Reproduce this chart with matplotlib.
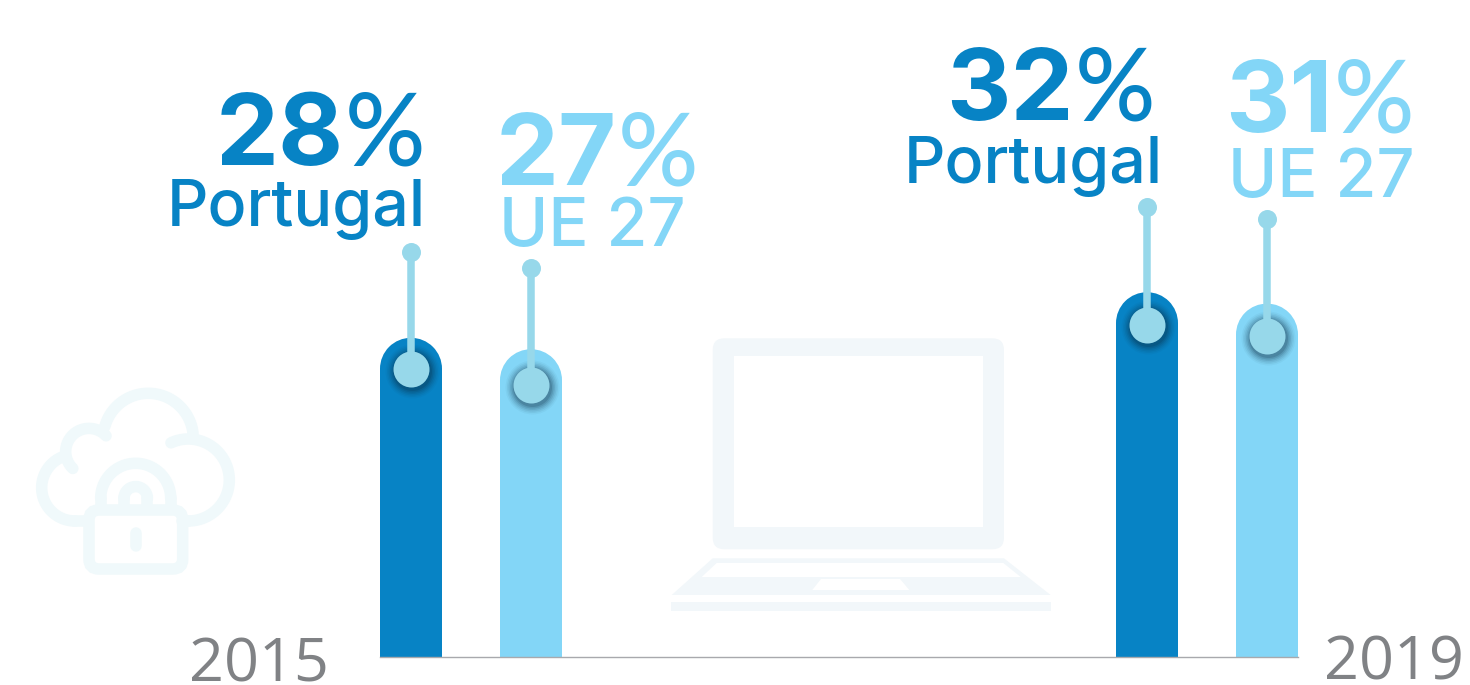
import numpy as np
import matplotlib
matplotlib.use("Agg")
import matplotlib.pyplot as plt
from matplotlib.patches import FancyBboxPatch, Polygon, Rectangle
from matplotlib.path import Path
from matplotlib.transforms import Affine2D

# Data
labels = ["Portugal", "UE 27", "Portugal", "UE 27"]
values = [28, 27, 32, 31]
years = ["2015", "2019"]

# Layout, in pixels of the 1470x685 picture
W, H = 1470, 685
BASE_Y = 657
PX_PER_PCT = 11.4
BAR_W = 62
bar_x = [411, 531, 1147, 1267]
pin_y = [252, 268, 207, 219]
knob_y = [369, 385, 325, 336]

DARK = "#0783c5"
LIGHT = "#83d6f7"
KNOB = "#97d8ea"
GREY = "#808285"
CLOUD = "#f0f9fb"
LAPTOP = "#f2f7fa"
bar_colors = [DARK, LIGHT, DARK, LIGHT]
name_sizes = [46.5, 48, 46.5, 48]

plt.rcParams["font.family"] = ["Inter", "DejaVu Sans"]

fig = plt.figure(figsize=(W / 100, H / 100), dpi=100, facecolor="white")

# -------- Bars, on a percent scale --------
ax = fig.add_axes([0, 0, 1, 1])
ax.set_xlim(0, W)
ax.set_ylim(-(H - BASE_Y) / PX_PER_PCT, BASE_Y / PX_PER_PCT)
ax.axis("off")

r_y = BAR_W / 2 / PX_PER_PCT
bars = ax.bar(bar_x, values, width=BAR_W, color=bar_colors, linewidth=0)
for bar, x, v in zip(bars, bar_x, values):
    # round the top of the bar
    rect = Path.unit_rectangle().transformed(Affine2D().scale(BAR_W, v - r_y).translate(x - BAR_W / 2, 0))
    cap = Path.unit_circle().transformed(Affine2D().scale(BAR_W / 2, r_y).translate(x, v - r_y))
    bar.set_clip_path(Path.make_compound_path(rect, cap), ax.transData)
ax.plot([380, 1298], [0, 0], color="#a8a9ad", lw=1)

# -------- Everything else, in pixels --------
top = fig.add_axes([0, 0, 1, 1], facecolor="none")
top.set_xlim(0, W)
top.set_ylim(H, 0)
top.axis("off")


def arc(cx, cy, r, a0, a1):
    t = np.radians(np.linspace(a0, a1, 80))
    top.plot(cx + r * np.cos(t), cy - r * np.sin(t), color=CLOUD, lw=8.3, solid_capstyle="round")


def seg(xs, ys):
    top.plot(xs, ys, color=CLOUD, lw=8.3, solid_capstyle="round")


# cloud
arc(148.3, 438.3, 45, 165, 6)
arc(89, 451.7, 23.3, 43, 226)
arc(75, 487.7, 33.3, 110, 270)
seg([75, 84], [521, 521])
arc(188.3, 480, 41, 115, -90)
seg([188.3, 182], [521, 521])
# padlock
top.add_patch(FancyBboxPatch((89, 510), 93.7, 59, boxstyle="round,pad=0,rounding_size=10",
                             fc="white", ec=CLOUD, lw=8.3))
arc(135.7, 498.3, 35, 180, 0)
seg([100.7, 100.7], [498.3, 508])
seg([170.7, 170.7], [498.3, 508])
arc(135.7, 498.3, 11.7, 180, 0)
seg([124, 124], [498.3, 508])
seg([147.4, 147.4], [498.3, 508])
seg([135.7, 135.7], [533.3, 545.7])

# laptop
top.add_patch(FancyBboxPatch((712.7, 338.3), 291.3, 211, boxstyle="round,pad=0,rounding_size=11.7",
                             fc=LAPTOP, ec="none"))
top.add_patch(Rectangle((734, 356), 248.7, 171.3, fc="white", ec="none"))
top.add_patch(Polygon([(671.7, 595), (712.7, 558.3), (1004, 558.3), (1050.7, 595)], fc=LAPTOP, ec="none"))
top.add_patch(Polygon([(701.7, 577), (716.7, 563), (1003.3, 563), (1020.7, 577)], fc="white", ec="none"))
top.add_patch(Polygon([(812.3, 590), (821, 579), (900, 579), (909.3, 590)], fc="white", ec="none"))
top.add_patch(Rectangle((671, 601.7), 380, 9.3, fc=LAPTOP, ec="none"))

# pins with a soft shadow under the knob
shadow_d = [54, 51, 48, 45, 42, 39]
shadow_a = [0.04, 0.06, 0.08, 0.10, 0.13, 0.17]
for x, py, ky in zip(bar_x, pin_y, knob_y):
    for d, a in zip(shadow_d, shadow_a):
        top.scatter([x + 1], [ky + 2], s=(d * 0.72) ** 2, color="#0b2a40", alpha=a, linewidths=0)
    top.plot([x, x], [py, ky], color=KNOB, lw=5.4, solid_capstyle="butt")
    top.scatter([x], [py], s=(19 * 0.72) ** 2, color=KNOB, linewidths=0)
    top.scatter([x], [ky], s=(36 * 0.72) ** 2, color=KNOB, linewidths=0)

# value and name labels: heavy digits, lighter percent sign
pct_pos = [(425, 165), (698, 185), (1155, 120), (1414, 132)]
name_pos = [(426, 226), (686, 246), (1163, 183), (1415, 197)]
for v, name, c, fs, (px, py), (nx, ny) in zip(values, labels, bar_colors, name_sizes, pct_pos, name_pos):
    top.text(px - 81, py, f"{v}", color=c, fontsize=72, fontweight="bold", ha="right", va="baseline")
    top.text(px, py, "%", color=c, fontsize=72, fontweight="medium", family="Lato", ha="right", va="baseline")
    top.text(nx, ny, name, color=c, fontsize=fs, fontweight="medium", ha="right", va="baseline")

# years
top.text(329, 682, years[0], color=GREY, fontsize=44, family="Open Sans", ha="right", va="baseline")
top.text(1464, 680, years[1], color=GREY, fontsize=44, family="Open Sans", ha="right", va="baseline")

fig.savefig("out.png", dpi=100)
